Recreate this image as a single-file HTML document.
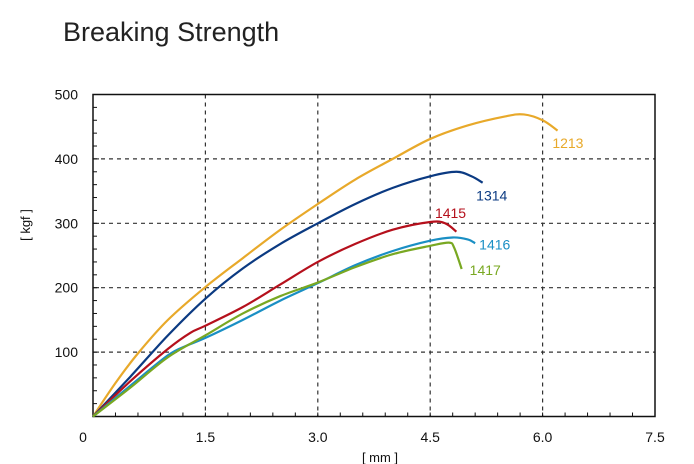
<!DOCTYPE html>
<html><head><meta charset="utf-8"><style>
html,body{margin:0;padding:0;background:#fff;}
svg{display:block;font-family:"Liberation Sans",sans-serif;}
</style></head><body>
<svg id="chart" width="694" height="464">
<text x="63" y="41" font-size="27" fill="#222">Breaking Strength</text>
<g id="grid"></g>
<g id="axes"></g>
<g id="series"></g>
<text x="30" y="225" font-size="13" fill="#111" text-anchor="middle" transform="rotate(-90 30 225)">[ kgf ]</text>
<text x="380" y="462" font-size="13" fill="#111" text-anchor="middle">[ mm ]</text>
</svg>
<script>
const xTicks=[0,1.5,3.0,4.5,6.0,7.5];
const xTickLabels=["0","1.5","3.0","4.5","6.0","7.5"];
const yTicks=[100,200,300,400,500];
const yTickLabels=["100","200","300","400","500"];
const seriesNames=["1213","1314","1415","1416","1417"];
const x1213=[0,0.3,0.6,1.0,1.5,2.0,2.5,3.0,3.5,4.0,4.5,5.0,5.5,5.75,6.0,6.2];
const y1213=[0,52,98,150,201,246,290,330,368,400,431,452,466,469,460,444];
const x1314=[0,0.5,1.0,1.5,2.0,2.5,3.0,3.5,4.0,4.5,4.85,5.05,5.2];
const y1314=[0,62,126,183,230,268,300,330,355,373,380,373,363];
const x1415=[0,0.5,1.0,1.3,1.5,2.0,2.5,3.0,3.5,4.0,4.5,4.7,4.85];
const y1415=[0,55,105,130,141,170,205,240,268,290,302,300,287];
const x1416=[0,0.5,1.0,1.25,1.5,2.0,2.5,3.0,3.5,4.0,4.5,4.8,5.0,5.1];
const y1416=[0,48,95,110,122,150,180,207,235,257,273,278,275,269];
const x1417=[0,0.5,1.0,1.5,2.0,2.5,3.0,3.5,4.0,4.5,4.75,4.82,4.92];
const y1417=[0,45,92,126,160,187,208,232,252,265,270,262,229];

const colors=["#e8a92a","#0b3a82","#b5101c","#1a8fc4","#79a822"];
const labelPos=[[6.25,445,-9,18],[5.1,363,1,18],[4.55,302,1,-4],[5.1,269,4,6],[4.92,229,8,6]];
const X0=93,X1=655,Y0=416.5,Y1=94.5;
const sx=v=>X0+v/7.5*(X1-X0);
const sy=v=>Y0-v/500*(Y0-Y1);
const NS="http://www.w3.org/2000/svg";
function mk(tag,attrs,parent){const e=document.createElementNS(NS,tag);for(const k in attrs)e.setAttribute(k,attrs[k]);parent.appendChild(e);return e;}
const grid=document.getElementById('grid'),axes=document.getElementById('axes'),ser=document.getElementById('series');
xTicks.forEach((t,i)=>{
  if(i>0&&i<xTicks.length-1){const l=mk('line',{x1:sx(t),x2:sx(t),y1:Y1,y2:Y0,stroke:'#333','stroke-dasharray':'4,4','stroke-width':1.2},grid);
  
  }
  const tx=mk('text',{x:sx(t)-(i==0?10:0),y:442,'font-size':14,'text-anchor':'middle',fill:'#111'},axes);tx.textContent=xTickLabels[i];
  
  
});
yTicks.forEach((t,i)=>{
  if(i<yTicks.length-1){const l=mk('line',{x1:X0,x2:X1,y1:sy(t),y2:sy(t),stroke:'#333','stroke-dasharray':'4,4','stroke-width':1.2},grid);
  
  }
  const tx=mk('text',{x:78,y:sy(t)+5,'font-size':14,'text-anchor':'end',fill:'#111'},axes);tx.textContent=yTickLabels[i];
  
  
});
for(let v=0.3;v<7.5;v+=0.3){mk('line',{x1:sx(v),x2:sx(v),y1:Y0,y2:Y0-4,stroke:'#111'},axes);}
for(let v=20;v<500;v+=20){mk('line',{x1:X0,x2:X0+(v%100==0?6:4),y1:sy(v),y2:sy(v),stroke:'#111'},axes);}
mk('rect',{x:X0,y:Y1,width:X1-X0,height:Y0-Y1,fill:'none',stroke:'#111','stroke-width':1.5},axes);
const xs=[x1213,x1314,x1415,x1416,x1417],ys=[y1213,y1314,y1415,y1416,y1417];
function smooth(p){let d=`M${p[0][0]},${p[0][1]}`;for(let i=0;i<p.length-1;i++){const a=p[Math.max(i-1,0)],b=p[i],c=p[i+1],e=p[Math.min(i+2,p.length-1)];
d+=` C${b[0]+(c[0]-a[0])/6},${b[1]+(c[1]-a[1])/6} ${c[0]-(e[0]-b[0])/6},${c[1]-(e[1]-b[1])/6} ${c[0]},${c[1]}`;}return d;}
seriesNames.forEach((n,i)=>{
  const pts=xs[i].map((x,j)=>[sx(x),sy(ys[i][j])]);
  const p=mk('path',{d:smooth(pts),fill:'none',stroke:colors[i],'stroke-width':2.2},ser);
  
  
  const lp=labelPos[i];
  const t=mk('text',{x:sx(lp[0])+lp[2],y:sy(lp[1])+lp[3],'font-size':14,fill:colors[i]},ser);t.textContent=n;
  
  
});
</script>
</body></html>
